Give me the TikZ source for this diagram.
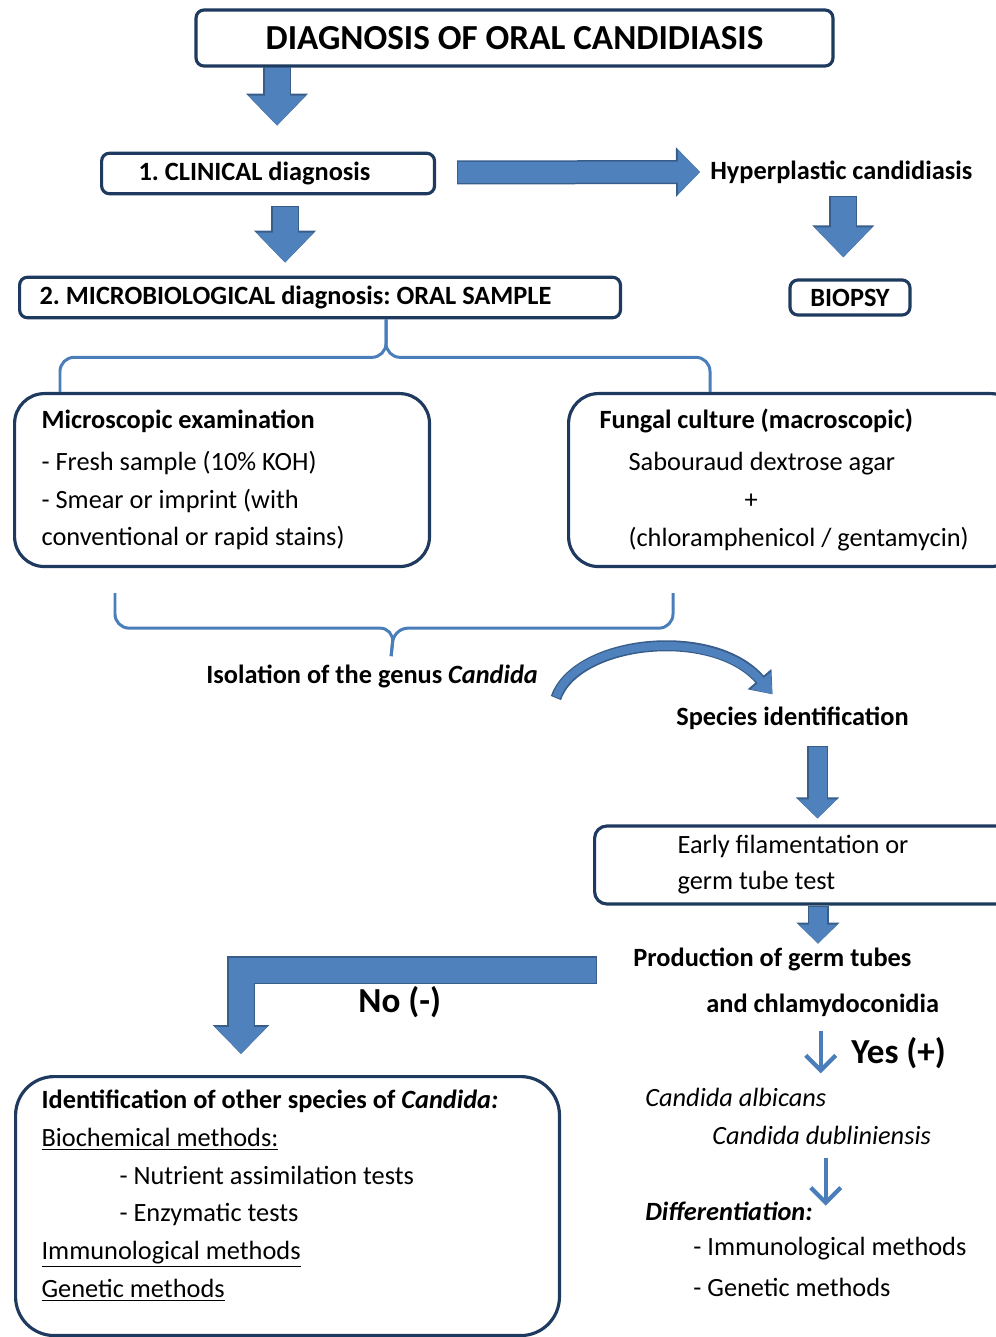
\documentclass[tikz,border=0pt]{standalone}
\usepackage{fontspec}
\setmainfont{Carlito}
\usetikzlibrary{arrows.meta,calc}
\definecolor{arrowblue}{HTML}{4F81BD}
\definecolor{arrowedge}{HTML}{385D8A}
\definecolor{boxedge}{HTML}{1F3A5F}
\definecolor{braceblue}{HTML}{4A7EBB}
\newcommand{\bigsize}{\fontsize{20}{24}\selectfont\bfseries}

\tikzset{
  box/.style={draw=boxedge, line width=1.8pt, rounded corners=4.5pt},
  roundbox/.style={draw=boxedge, line width=1.8pt, rounded corners=17pt, align=flush left},
  txt/.style={anchor=west, inner sep=0pt},
  brace/.style={draw=braceblue, line width=1.7pt, rounded corners=8pt},
  bigarrow/.style={draw=arrowblue, line width=0.5cm, -{Triangle[width=1.1cm,length=0.6cm]},
    preaction={draw=arrowedge, line width=0.56cm, shorten <=-0.6pt, -{Triangle[width=1.2cm,length=0.64cm]}}},
  sidearrow/.style={draw=arrowblue, line width=0.42cm, -{Triangle[width=0.86cm,length=0.44cm]},
    preaction={draw=arrowedge, line width=0.48cm, shorten <=-0.6pt, -{Triangle[width=0.96cm,length=0.48cm]}}},
  medarrow/.style={draw=arrowblue, line width=0.36cm, -{Triangle[width=0.74cm,length=0.38cm]},
    preaction={draw=arrowedge, line width=0.42cm, shorten <=-0.6pt, -{Triangle[width=0.84cm,length=0.42cm]}}},
  larrow/.style={draw=arrowblue, line width=0.5cm, -{Triangle[width=1.0cm,length=0.54cm]},
    preaction={draw=arrowedge, line width=0.56cm, shorten <=-0.6pt, -{Triangle[width=1.1cm,length=0.58cm]}}},
  curvearrow/.style={draw=arrowblue, line width=0.16cm, -{Triangle[width=0.5cm,length=0.36cm]},
    preaction={draw=arrowedge, line width=0.22cm, shorten <=-0.6pt, -{Triangle[width=0.6cm,length=0.4cm]}}},
  thinarrow/.style={draw=braceblue, line width=2.4pt, -{Straight Barb[width=0.6cm,length=0.3cm]}}
}

\begin{document}
\fontsize{15}{21.5}\selectfont\frenchspacing
\begin{tikzpicture}[x=0.02cm,y=-0.02cm]
\useasboundingbox (0,0) rectangle (995,1337);

% top part
\node[box, minimum width=12.74cm, minimum height=1.12cm, font=\fontsize{20}{24}\selectfont\bfseries] (title) at (514.5,38) {DIAGNOSIS OF ORAL CANDIDIASIS};
\node[box, anchor=west, minimum height=0.7cm, text width=5.18cm, inner xsep=0.74cm, align=flush left, font=\bfseries] (clin) at (100,173.5) {1. CLINICAL diagnosis};
\node[txt, font=\bfseries] (hyper) at (710,172) {Hyperplastic candidiasis};
\node[box, anchor=west, minimum height=0.66cm, text width=11.22cm, inner xsep=0.4cm, align=flush left, font=\bfseries] (mb) at (18,297.5) {2. MICROBIOLOGICAL diagnosis: ORAL SAMPLE};
\node[box, minimum width=2.4cm, minimum height=0.66cm, font=\bfseries] (bio) at (850,297.5) {BIOPSY};

\draw[bigarrow] ($(title.south -| clin.north)+(9,0)$) -- ($(clin.north)+(9,-26)$);
\draw[sidearrow] ($(clin.east)+(22,-1)$) -- ($(hyper.west)+(-10,0)$);
\draw[bigarrow] ($(clin.south)+(17,12)$) -- ($(clin.south |- mb.north)+(17,-13)$);
\draw[bigarrow] ($(hyper.south)+(2,13)$) -- ($(hyper.south |- bio.north)+(2,-21)$);

% the two exams
\node[roundbox, anchor=north west, minimum height=3.46cm, text width=7.22cm, inner xsep=0.54cm] (micro) at (13,392)
  {\textbf{Microscopic examination}\\[2.4pt] - Fresh sample (10\% KOH)\\ - Smear or imprint (with\\ conventional or rapid stains)};
\node[roundbox, anchor=north west, minimum height=3.46cm, text width=7.8cm, inner xsep=0.62cm] (fung) at (567,392)
  {\textbf{Fungal culture (macroscopic)}\\[2.4pt] \hspace*{0.58cm}Sabouraud dextrose agar\\ \hspace*{2.9cm}+\\ \hspace*{0.58cm}(chloramphenicol / gentamycin)};

\coordinate (topbrace) at ($(mb.south)+(66,38)$);
\draw[brace] ($(micro.north west)+(47,0)$) |- (topbrace) -- ($(mb.south)+(66,0)$);
\draw[brace] ($(fung.north west)+(143,0)$) |- (topbrace) -- ($(mb.south)+(66,0)$);

\node[txt, font=\bfseries] (iso) at (206,676) {Isolation of the genus \textit{Candida}};
\coordinate (botbrace) at ($(micro.south west)+(381,60)$);
\draw[brace] ($(micro.south west)+(102,25)$) |- (botbrace) -- ($(iso.north)+(19,-8)$);
\draw[brace] ($(fung.south west)+(106,25)$) |- (botbrace) -- ($(iso.north)+(19,-8)$);

\node[txt, font=\bfseries] (spec) at (676,718) {Species identification};
\draw[curvearrow] ($(iso.east)+(18,21)$) .. controls ($(iso.east)+(38,-36)$) and ($(iso.east)+(175,-51)$) .. ($(spec.north)+(-20,-12)$);

% germ tube test
\node[box, rounded corners=7pt, anchor=west, minimum height=1.56cm, text width=6cm, inner xsep=1.66cm, align=flush left] (early) at (593,865)
  {Early filamentation or\\[-1.1pt] germ tube test};
\draw[medarrow] ($(spec.south)+(25,17)$) -- ($(spec.south |- early.north)+(25,-6)$);

\node[txt, font=\bfseries] (prod) at (633,959) {Production of germ tubes};
\node[txt, font=\bfseries] (chl) at (706,1005) {and chlamydoconidia};
\draw[medarrow] ($(early.south west)+(225,1)$) -- ($(early.south west)+(225,38)$);

% negative branch
\node[roundbox, rounded corners=22pt, anchor=north west, minimum height=5.18cm, text width=9.84cm, inner xsep=0.52cm] (other) at (14,1075)
  {\textbf{Identification of other species of \textit{Candida:}}\\ \underline{Biochemical methods:}\\
   \hspace*{1.56cm}- Nutrient assimilation tests\\ \hspace*{1.56cm}- Enzymatic tests\\
   \underline{Immunological methods}\\ \underline{Genetic methods}\\[-0.26cm]\mbox{}};
\draw[larrow] ($(prod.west)+(-37,11)$) -| ($(other.north west)+(227,-21)$);
\node[txt, font=\bigsize] (no) at (358,1002) {No (-)};

% positive branch
\node[txt, font=\bigsize] (yes) at (851,1053) {Yes (+)};
\node[txt, font=\itshape] (alb) at (645,1097) {Candida albicans};
\node[txt, font=\itshape] (dub) at (712,1135) {Candida dubliniensis};
\draw[thinarrow] ($(chl.south)+(-2,14)$) -- ($(chl.south |- alb.north)+(-2,-14)$);
\node[txt, font=\bfseries\itshape] (diff) at (645,1211) {Differentiation:};
\node[txt] (imm) at (693,1249) {- Immunological methods};
\node[txt] (gen) at (693,1287) {- Genetic methods};
\draw[thinarrow] ($(dub.south)+(4,13)$) -- ($(dub.south)+(4,61)$);

\end{tikzpicture}
\end{document}
